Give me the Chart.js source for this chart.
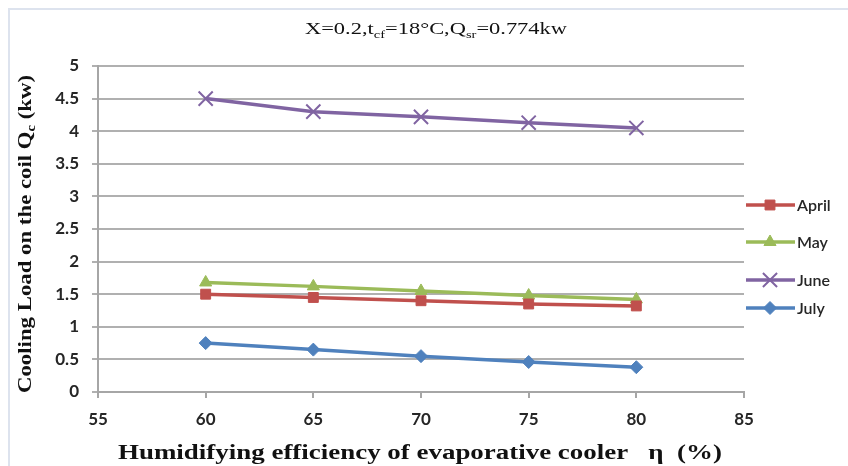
<!DOCTYPE html>
<html>
<head>
<meta charset="utf-8">
<script src="https://cdn.jsdelivr.net/npm/chart.js@4/dist/chart.umd.min.js"></script>
<style>
  html, body { margin: 0; padding: 0; background: #fff; }
  #wrap { position: relative; width: 848px; height: 466px; }
  #frame { position: absolute; left: 8px; top: 8px; right: 0; bottom: 0; border-left: 2px solid #dde3ee; border-top: 2px solid #dde3ee; pointer-events: none; }
</style>
</head>
<body>
<div id="wrap">
  <canvas id="grafico" width="848" height="466"></canvas>
  <div id="frame"></div>
</div>
<script>
// dados
const eficiencia = [60, 65, 70, 75, 80];
const abril = [1.5, 1.45, 1.4, 1.35, 1.32];
const maio = [1.68, 1.62, 1.55, 1.48, 1.42];
const junho = [4.5, 4.3, 4.22, 4.13, 4.05];
const julho = [0.75, 0.65, 0.55, 0.46, 0.38];
const meses = ["April", "May", "June", "July"];
const xTicks = [55, 60, 65, 70, 75, 80, 85];

const cores = ["#c0504d", "#9bbb59", "#8064a2", "#4f81bd"];
const estilos = ["rect", "triangle", "crossRot", "rectRot"];
const raios = [7, 7, 10, 6.5];
const legendaY = [205, 242, 280, 308];

function pontos(valores) {
  return eficiencia.map((x, i) => ({ x: x, y: valores[i] }));
}

const series = [abril, maio, junho, julho];
const datasets = series.map((s, i) => ({
  label: meses[i],
  data: pontos(s),
  borderColor: cores[i],
  backgroundColor: cores[i],
  borderWidth: 3.5,
  pointStyle: estilos[i],
  pointRadius: raios[i],
  pointBorderWidth: estilos[i] === "crossRot" ? 2 : 1,
  pointBackgroundColor: cores[i],
  pointBorderColor: cores[i],
  tension: 0,
  fill: false,
}));

const serif = "'Liberation Serif', 'DejaVu Serif', serif";
const sans = "Lato, 'Liberation Sans', sans-serif";

// escreve texto com subscritos, ajustado a uma largura
function textoComSub(ctx, partes, fonte, fonteSub, cx, cy, largura) {
  let w = 0;
  partes.forEach((p) => {
    ctx.font = p.sub ? fonteSub : fonte;
    p.w = ctx.measureText(p.t).width;
    w += p.w;
  });
  const sx = largura ? largura / w : 1;
  ctx.save();
  ctx.translate(cx, cy);
  ctx.scale(sx, 1);
  let x = -w / 2;
  ctx.textBaseline = "alphabetic";
  ctx.textAlign = "left";
  partes.forEach((p) => {
    ctx.font = p.sub ? fonteSub : fonte;
    ctx.fillText(p.t, x, p.sub ? 4 : 0);
    x += p.w;
  });
  ctx.restore();
}

const extras = {
  id: "extras",
  afterDraw(chart) {
    const ctx = chart.ctx;
    ctx.save();
    ctx.fillStyle = "#111";

    // titulo
    textoComSub(ctx, [
      { t: "X=0.2,t" }, { t: "cf", sub: true }, { t: "=18°C,Q" }, { t: "sr", sub: true }, { t: "=0.774kw" }
    ], "17px " + serif, "11px " + serif, 436, 34, 262);

    // titulo eixo x
    textoComSub(ctx, [{ t: "Humidifying efficiency of evaporative cooler   η  (%)" }],
      "bold 20px " + serif, "bold 13px " + serif, 420, 459, 604);

    // titulo eixo y
    ctx.save();
    ctx.translate(31, 234);
    ctx.rotate(-Math.PI / 2);
    textoComSub(ctx, [{ t: "Cooling Load on the coil Q" }, { t: "c", sub: true }, { t: " (kw)" }],
      "bold 19px " + serif, "bold 12px " + serif, 0, 0, 318);
    ctx.restore();

    // legenda
    meses.forEach((m, i) => {
      const y = legendaY[i];
      ctx.strokeStyle = cores[i];
      ctx.fillStyle = cores[i];
      ctx.lineWidth = 3.5;
      ctx.beginPath();
      ctx.moveTo(746, y);
      ctx.lineTo(795, y);
      ctx.stroke();
      ctx.lineWidth = estilos[i] === "crossRot" ? 2 : 1;
      Chart.helpers.drawPoint(ctx, { pointStyle: estilos[i], radius: raios[i], rotation: 0, borderWidth: ctx.lineWidth }, 770, y);
      ctx.fillStyle = "#262626";
      ctx.font = "600 16px " + sans;
      ctx.textAlign = "left";
      ctx.textBaseline = "middle";
      ctx.fillText(m, 797, y + 1);
    });
    ctx.restore();
  },
};

new Chart(document.getElementById("grafico").getContext("2d"), {
  type: "line",
  data: { datasets: datasets },
  options: {
    responsive: false,
    animation: false,
    layout: { padding: { left: 0, top: 66, right: 104, bottom: 0 } },
    plugins: { legend: { display: false }, tooltip: { enabled: false } },
    scales: {
      x: {
        type: "linear",
        min: 55,
        max: 85,
        afterBuildTicks: (axis) => { axis.ticks = xTicks.map((v) => ({ value: v })); },
        afterFit: (axis) => { axis.height = 74; },
        grid: { drawOnChartArea: false, drawTicks: true, tickLength: 6, color: "#a6a6a6", lineWidth: 2 },
        border: { display: true, color: "#a6a6a6", width: 2 },
        ticks: { color: "#262626", font: { family: sans, size: 17, weight: "bold" }, padding: 11, maxRotation: 0 },
      },
      y: {
        min: 0,
        max: 5,
        afterFit: (axis) => { axis.width = 98; },
        grid: { color: "#b0b0b0", lineWidth: 2, drawTicks: true, tickLength: 6 },
        border: { display: true, color: "#a6a6a6", width: 2 },
        ticks: { stepSize: 0.5, color: "#262626", font: { family: sans, size: 17, weight: "bold" }, padding: 13, callback: (v) => String(v) },
      },
    },
  },
  plugins: [extras],
});
</script>
</body>
</html>
